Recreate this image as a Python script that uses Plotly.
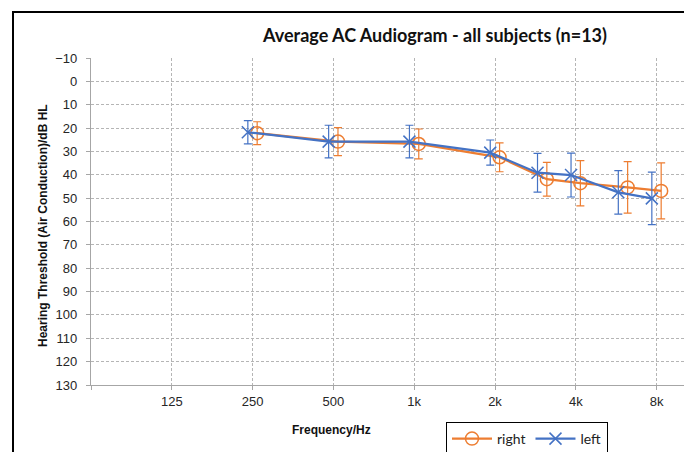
import math
import plotly.graph_objects as go

# ---- data ----
freqs = [250, 500, 1000, 2000, 3000, 4000, 6000, 8000]
right_mean = [22.2, 25.8, 26.8, 32.5, 41.9, 43.6, 45.4, 46.9]
right_sd = [4.9, 6.0, 6.4, 6.2, 7.2, 9.7, 11.0, 12.0]
left_mean = [21.8, 25.8, 25.8, 30.5, 39.1, 40.1, 47.5, 50.1]
left_sd = [5.0, 7.0, 7.0, 5.4, 8.3, 9.4, 9.3, 11.2]
tick_vals = [62.5, 125, 250, 500, 1000, 2000, 4000, 8000]
tick_text = ["", "125", "250", "500", "1k", "2k", "4k", "8k"]
y_ticks = list(range(-10, 131, 10))

# small horizontal display offsets so the two ears don't overlap (as in original)
right_shift = 1.04
left_shift = 0.96

ORANGE = "#ED7D31"
BLUE = "#4472C4"

W, H = 684, 452
L, R, T, B = 91, 0, 58, 67
pw, ph = W - L - R, H - T - B
px_per_oct = 80.8
octs = pw / px_per_oct
x0 = math.log10(62.5)
x1 = x0 + octs * math.log10(2)

fig = go.Figure()
fig.add_trace(go.Scatter(
    x=[f * right_shift for f in freqs], y=right_mean, name="right",
    mode="lines+markers",
    line=dict(color=ORANGE, width=2.25),
    marker=dict(symbol="circle-open", size=13, color=ORANGE, line=dict(width=1.5, color=ORANGE)),
    error_y=dict(type="data", array=right_sd, visible=True, color=ORANGE, thickness=1.2, width=4),
))
fig.add_trace(go.Scatter(
    x=[f * left_shift for f in freqs], y=left_mean, name="left",
    mode="lines+markers",
    line=dict(color=BLUE, width=2.25),
    marker=dict(symbol="x-thin-open", size=12, color=BLUE, line=dict(width=1.5, color=BLUE)),
    error_y=dict(type="data", array=left_sd, visible=True, color=BLUE, thickness=1.2, width=4),
))

tickfont = dict(family="Liberation Sans, Arial, sans-serif", size=13, color="#262626")
grid = dict(showgrid=True, gridcolor="#b5b5b5", griddash="3px,2px", gridwidth=1,
            showline=True, linecolor="#a6a6a6", linewidth=1.2,
            ticks="outside", ticklen=4, tickcolor="#a6a6a6",
            tickfont=tickfont, zeroline=False)
fig.update_xaxes(type="log", range=[x0, x1], tickvals=tick_vals, ticktext=tick_text, **grid)
fig.update_yaxes(range=[130, -10], tickvals=y_ticks, ticklabelstandoff=6, **grid)

def px_x(x):
    return (x - L) / pw

def px_y(y):
    return (H - B - y) / ph

fig.update_layout(
    width=W, height=H,
    margin=dict(l=L, r=R, t=T, b=B, autoexpand=False),
    paper_bgcolor="white", plot_bgcolor="white",
    showlegend=True,
    legend=dict(
        orientation="h", x=px_x(446), y=px_y(422), xanchor="left", yanchor="top",
        bordercolor="#000", borderwidth=1, bgcolor="white",
        font=dict(family="Lato, Liberation Sans, sans-serif", size=14, color="#222"),
        itemwidth=40, tracegroupgap=0,
    ),
    annotations=[
        dict(text="<b>Average AC Audiogram - all subjects (n=13)</b>", xref="paper", yref="paper",
             x=px_x(434), y=px_y(35), xanchor="center", yanchor="middle", showarrow=False,
             font=dict(family="Lato, Liberation Sans, sans-serif", size=18, color="#111")),
        dict(text="<b>Hearing Threshold (Air Conduction)/dB HL</b>", xref="paper", yref="paper",
             x=px_x(43), y=px_y(226), xanchor="center", yanchor="middle", showarrow=False,
             textangle=-90,
             font=dict(family="Liberation Sans, Arial, sans-serif", size=12, color="#111")),
        dict(text="<b>Frequency/Hz</b>", xref="paper", yref="paper",
             x=px_x(331), y=px_y(430), xanchor="center", yanchor="middle", showarrow=False,
             font=dict(family="Liberation Sans, Arial, sans-serif", size=12, color="#111")),
    ],
    shapes=[
        dict(type="line", xref="paper", yref="paper",
             x0=px_x(13), y0=px_y(452), x1=px_x(13), y1=px_y(12),
             line=dict(color="#000", width=2), layer="above"),
        dict(type="line", xref="paper", yref="paper",
             x0=px_x(12), y0=px_y(12), x1=px_x(684), y1=px_y(12),
             line=dict(color="#000", width=2), layer="above"),
    ],
)

fig.write_html(
    "out.html",
    config={"displayModeBar": False},
    post_script="document.body.style.margin='0';document.body.style.overflow='hidden';",
)
